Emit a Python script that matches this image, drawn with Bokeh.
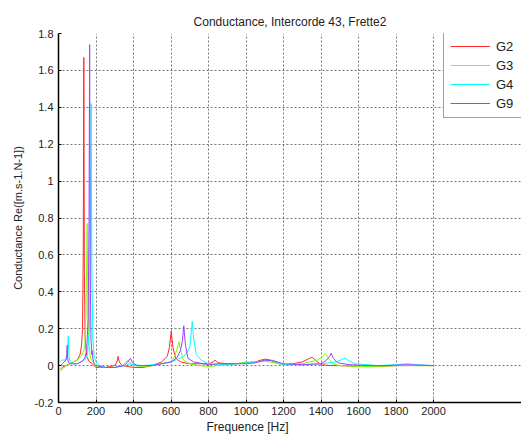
from bokeh.plotting import figure
from bokeh.models import (Range1d, FixedTicker, CustomJSTickFormatter, Legend, LegendItem, Title)
from bokeh.embed import file_html
from bokeh.resources import INLINE

# ---- data ----
title_text = "Conductance, Intercorde 43, Frette2"
x_label = "Frequence [Hz]"
y_label = "Conductance Re([m.s-1.N-1])"
series_names = ["G2", "G3", "G4", "G9"]
series_colors = ["#ff2a2a", "#7fff00", "#00ffff", "#a040ff"]
x_ticks = [0, 200, 400, 600, 800, 1000, 1200, 1400, 1600, 1800, 2000]
y_ticks = [-0.2, 0, 0.2, 0.4, 0.6, 0.8, 1.0, 1.2, 1.4, 1.6, 1.8]

g2_f = [10, 20, 40, 60, 80, 100, 115, 123, 128, 132, 135, 138, 142, 150, 165, 180, 200, 250, 300, 312, 318, 324, 340,
        400, 450, 500, 550, 580, 592, 601, 610, 625, 650, 700, 750, 800, 825, 835, 850, 900, 950, 1000, 1050, 1080,
        1104, 1130, 1160, 1200, 1250, 1300, 1340, 1353, 1370, 1400, 1450, 1500, 1600, 1700, 1800, 1900, 2000]
g2_v = [-0.02, -0.01, 0.0, 0.01, 0.02, 0.03, 0.06, 0.11, 0.2, 0.6, 1.67, 0.5, 0.15, 0.05, 0.02, 0.01, -0.01, -0.01,
        0.0, 0.02, 0.05, 0.02, 0.0, -0.01, -0.01, 0.0, 0.02, 0.05, 0.1, 0.187, 0.1, 0.04, 0.02, 0.01, 0.01, 0.01, 0.02,
        0.03, 0.015, 0.01, 0.01, 0.015, 0.02, 0.03, 0.035, 0.03, 0.015, 0.005, 0.01, 0.02, 0.04, 0.045, 0.03, 0.005,
        0.0, 0.0, -0.005, -0.005, 0.0, 0.0, 0.0]

g3_f = [10, 20, 40, 60, 80, 100, 120, 130, 140, 147, 150, 153, 156, 160, 170, 185, 200, 250, 300, 340, 360, 370, 380,
        400, 450, 500, 550, 600, 620, 635, 642, 650, 665, 700, 750, 800, 850, 900, 950, 1000, 1050, 1100, 1150, 1200,
        1300, 1380, 1410, 1424, 1440, 1460, 1500, 1600, 1700, 1800, 1900, 2000]
g3_v = [-0.03, -0.02, 0.0, 0.01, 0.02, 0.03, 0.05, 0.07, 0.1, 0.3, 0.55, 0.77, 0.45, 0.15, 0.04, 0.02, -0.005, -0.01,
        -0.01, 0.0, 0.02, 0.03, 0.015, 0.0, -0.005, 0.0, 0.01, 0.02, 0.05, 0.1, 0.13, 0.09, 0.03, 0.01, 0.0, -0.005,
        0.0, 0.005, 0.01, 0.02, 0.02, 0.025, 0.015, 0.005, 0.01, 0.03, 0.05, 0.065, 0.04, 0.01, 0.0, -0.005, -0.005,
        0.0, 0.0, 0.0]

g4_f = [10, 20, 30, 40, 47, 52, 56, 62, 80, 100, 120, 140, 155, 165, 170, 174, 178, 183, 190, 200, 220, 250, 300, 350,
        380, 400, 450, 500, 550, 600, 650, 680, 700, 708, 713, 720, 735, 760, 800, 850, 900, 950, 1000, 1050, 1100,
        1140, 1170, 1200, 1300, 1400, 1480, 1515, 1531, 1550, 1580, 1650, 1700, 1800, 1860, 1920, 2000]
g4_v = [0.02, 0.03, 0.03, 0.03, 0.06, 0.16, 0.05, 0.02, 0.01, 0.01, 0.02, 0.03, 0.06, 0.2, 0.6, 1.42, 0.5, 0.15, 0.05,
        0.02, 0.0, -0.01, -0.01, 0.0, 0.01, 0.005, 0.0, 0.005, 0.01, 0.02, 0.04, 0.06, 0.1, 0.18, 0.24, 0.15, 0.06,
        0.03, 0.01, 0.005, 0.005, 0.01, 0.015, 0.02, 0.025, 0.03, 0.015, 0.005, 0.005, 0.01, 0.02, 0.035, 0.04, 0.025,
        0.01, 0.005, 0.0, 0.005, 0.01, 0.005, 0.0]

g9_f = [10, 20, 30, 40, 44, 46, 48, 52, 60, 80, 100, 120, 140, 150, 158, 163, 166, 169, 173, 178, 180, 183, 190, 200,
        250, 300, 350, 370, 384, 395, 420, 450, 500, 550, 600, 630, 650, 660, 668, 676, 690, 720, 800, 850, 900, 1000,
        1050, 1100, 1150, 1200, 1300, 1400, 1430, 1445, 1454, 1465, 1490, 1550, 1650, 1750, 1850, 2000]
g9_v = [0.0, 0.01, 0.02, 0.03, 0.06, 0.11, 0.05, 0.02, 0.01, 0.01, 0.01, 0.02, 0.04, 0.08, 0.25, 0.8, 1.74, 0.5, 0.15,
        0.06, 0.08, 0.04, 0.01, 0.0, -0.01, -0.01, 0.0, 0.02, 0.04, 0.015, 0.0, 0.0, 0.0, 0.01, 0.02, 0.04, 0.08,
        0.13, 0.216, 0.12, 0.04, 0.02, 0.005, 0.01, 0.01, 0.01, 0.015, 0.03, 0.025, 0.01, 0.005, 0.01, 0.03, 0.05,
        0.067, 0.04, 0.015, 0.005, 0.0, 0.0, 0.005, 0.0]

series_f = [g2_f, g3_f, g4_f, g9_f]
series_v = [g2_v, g3_v, g4_v, g9_v]

FONT = "Liberation Sans"

p = figure(width=521, height=437, output_backend="svg", toolbar_location=None,
           x_range=Range1d(0, 2469), y_range=Range1d(-0.2, 1.8),
           min_border_left=58, min_border_right=0, min_border_top=33, min_border_bottom=35)
p.title.text = title_text
p.title.align = "center"
p.title.text_font = FONT
p.title.text_font_size = "12px"
p.title.text_font_style = "normal"
p.title.text_color = "#222222"
p.title.offset = 0
p.outline_line_color = None
p.background_fill_color = "white"
p.border_fill_color = "white"

p.xaxis.ticker = FixedTicker(ticks=x_ticks)
p.yaxis.ticker = FixedTicker(ticks=y_ticks)
p.yaxis.formatter = CustomJSTickFormatter(code="return (Math.round(tick*10)/10).toString();")
p.yaxis.axis_label = y_label
for ax in (p.xaxis, p.yaxis):
    ax.axis_line_color = "black"
    ax.axis_line_width = 1.5
    ax.major_tick_in = 3
    ax.major_tick_out = 0
    ax.minor_tick_line_color = None
    ax.major_tick_line_color = "black"
    ax.major_label_text_font = FONT
    ax.major_label_text_font_size = "11px"
    ax.major_label_text_color = "#222222"
    ax.axis_label_text_font = FONT
    ax.axis_label_text_font_size = "11px"
    ax.axis_label_text_font_style = "normal"
    ax.axis_label_text_color = "#222222"
p.yaxis.major_label_standoff = 5
p.xaxis.major_label_standoff = 4
p.yaxis.axis_label_standoff = 8

for g in (p.xgrid, p.ygrid):
    g.grid_line_color = "#777777"
    g.grid_line_dash = "2 2"
    g.grid_line_width = 1

items = []
for name, col, f, v in zip(series_names, series_colors, series_f, series_v):
    r = p.line(f, v, line_color=col, line_width=1)
    items.append(LegendItem(label=name, renderers=[r]))

legend = Legend(items=items, location=(385, 284))
legend.label_text_font = FONT
legend.label_text_font_size = "13px"
legend.label_text_color = "#222222"
legend.glyph_width = 40
legend.glyph_height = 16
legend.label_height = 16
legend.label_standoff = 6
legend.spacing = 3
legend.padding = 6
legend.margin = 0
legend.border_line_color = "#444444"
legend.border_line_width = 1
legend.background_fill_color = "white"
legend.background_fill_alpha = 1
p.add_layout(legend)

xl = Title(text=x_label, align="left", offset=148, standoff=0,
           text_font=FONT, text_font_size="12px", text_font_style="normal", text_color="#222222")
p.add_layout(xl, "below")

open("out.html", "w").write(file_html(p, INLINE))
